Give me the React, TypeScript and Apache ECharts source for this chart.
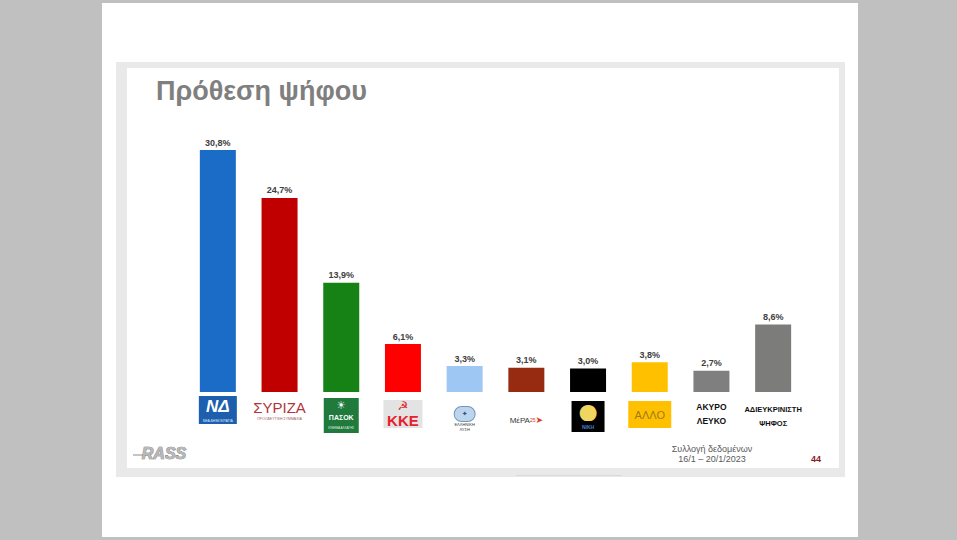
import React, { useEffect, useRef } from "react";
import * as echarts from "echarts";

const categories = [
  "ΝΔ",
  "ΣΥΡΙΖΑ",
  "ΠΑΣΟΚ",
  "ΚΚΕ",
  "ΕΛΛΗΝΙΚΗ ΛΥΣΗ",
  "ΜέΡΑ25",
  "ΝΙΚΗ",
  "ΑΛΛΟ",
  "ΑΚΥΡΟ ΛΕΥΚΟ",
  "ΑΔΙΕΥΚΡΙΝΙΣΤΗ ΨΗΦΟΣ",
];
const values = [30.8, 24.7, 13.9, 6.1, 3.3, 3.1, 3.0, 3.8, 2.7, 8.6];
const barColors = [
  "#1a6cc6",
  "#c00000",
  "#168216",
  "#ff0000",
  "#9fc7f3",
  "#962b12",
  "#000000",
  "#ffc000",
  "#7f7f7f",
  "#7c7d7a",
];
const title = "Πρόθεση ψήφου";
const footerLines = ["Συλλογή δεδομένων", "16/1 – 20/1/2023"];
const pageNumber = "44";

const logoText: Record<string, string> = {
  "ΝΔ": "{ndA|ΝΔ}\n{ndB|ΝΕΑ ΔΗΜΟΚΡΑΤΙΑ}",
  "ΣΥΡΙΖΑ": "{sp2| }\n{sy|ΣΥΡΙΖΑ}\n{syB|ΠΡΟΟΔΕΥΤΙΚΗ ΣΥΜΜΑΧΙΑ}",
  "ΠΑΣΟΚ": "{sp2| }\n{pkA|☀}\n{pkB|ΠΑΣΟΚ}\n{pkC|ΚΙΝΗΜΑ ΑΛΛΑΓΗΣ}",
  "ΚΚΕ": "{sp4| }\n{kkA|☭}\n{kkB|ΚΚΕ}",
  "ΕΛΛΗΝΙΚΗ ΛΥΣΗ": "{sp10| }\n{elA|✦}\n{elB|ΕΛΛΗΝΙΚΗ}\n{elB|ΛΥΣΗ}",
  "ΜέΡΑ25": "{sp19| }\n{mA|ΜέΡΑ}{mB|25}{mC|➤}",
  "ΝΙΚΗ": "{sp5| }\n{nkA|●}\n{nkB|ΝΙΚΗ}",
  "ΑΛΛΟ": "{sp5| }\n{alA|ΑΛΛΟ}",
  "ΑΚΥΡΟ ΛΕΥΚΟ": "{sp4| }\n{akA|ΑΚΥΡΟ}\n{akA|ΛΕΥΚΟ}",
  "ΑΔΙΕΥΚΡΙΝΙΣΤΗ ΨΗΦΟΣ": "{sp6| }\n{adA|ΑΔΙΕΥΚΡΙΝΙΣΤΗ}\n{adA|ΨΗΦΟΣ}",
};

const FONT = "Liberation Sans, Arial, sans-serif";

const spacer = (h: number) => ({ fontSize: 1, lineHeight: h, height: h, align: "center" });

const rich: Record<string, any> = {
  sp2: spacer(2),
  sp4: spacer(4),
  sp5: spacer(5),
  sp6: spacer(6),
  sp10: spacer(10),
  sp19: spacer(19),
  ndA: {
    backgroundColor: "#1d5fae",
    color: "#ffffff",
    width: 38,
    height: 21,
    lineHeight: 21,
    fontSize: 17,
    fontWeight: "bold",
    fontStyle: "italic",
    fontFamily: FONT,
    align: "center",
  },
  ndB: {
    backgroundColor: "#1d5fae",
    color: "#dce7f5",
    width: 38,
    height: 7,
    lineHeight: 7,
    fontSize: 3.5,
    fontFamily: FONT,
    align: "center",
  },
  sy: {
    color: "#b2343c",
    fontSize: 15,
    lineHeight: 18,
    fontFamily: FONT,
    align: "center",
  },
  syB: {
    color: "#a06060",
    fontSize: 3.5,
    lineHeight: 5,
    fontFamily: FONT,
    align: "center",
  },
  pkA: {
    backgroundColor: "#1f7a3c",
    color: "#ffffff",
    width: 35,
    height: 14,
    lineHeight: 14,
    fontSize: 11,
    fontFamily: "DejaVu Sans",
    align: "center",
  },
  pkB: {
    backgroundColor: "#1f7a3c",
    color: "#ffffff",
    width: 35,
    height: 11,
    lineHeight: 11,
    fontSize: 7,
    fontWeight: "bold",
    fontFamily: FONT,
    align: "center",
  },
  pkC: {
    backgroundColor: "#1f7a3c",
    color: "#e0f0e0",
    width: 35,
    height: 10,
    lineHeight: 10,
    fontSize: 3,
    fontFamily: FONT,
    align: "center",
  },
  kkA: {
    backgroundColor: "#e3e3e3",
    color: "#e02020",
    width: 39,
    height: 12,
    lineHeight: 12,
    fontSize: 12,
    fontWeight: "bold",
    fontFamily: "DejaVu Sans",
    align: "center",
  },
  kkB: {
    backgroundColor: "#e3e3e3",
    color: "#e8202a",
    width: 39,
    height: 16,
    lineHeight: 16,
    fontSize: 15,
    fontWeight: 900,
    fontFamily: FONT,
    align: "center",
  },
  elA: {
    backgroundColor: "#bcd5ec",
    borderColor: "#7397bb",
    borderWidth: 1,
    borderRadius: 8,
    width: 20,
    height: 14,
    lineHeight: 16,
    color: "#2b4f80",
    fontSize: 7,
    fontFamily: "DejaVu Sans",
    align: "center",
  },
  elB: {
    color: "#333333",
    fontSize: 4,
    lineHeight: 5,
    fontFamily: FONT,
    align: "center",
  },
  mA: {
    color: "#3a3a3a",
    fontSize: 8,
    lineHeight: 10,
    fontFamily: FONT,
    align: "center",
  },
  mB: {
    color: "#d23a2a",
    fontSize: 5,
    lineHeight: 10,
    fontFamily: FONT,
    align: "center",
  },
  mC: {
    color: "#e03a2a",
    fontSize: 9,
    lineHeight: 10,
    fontFamily: "DejaVu Sans",
    align: "center",
  },
  nkA: {
    backgroundColor: "#000000",
    color: "#f0d560",
    width: 33,
    height: 20,
    lineHeight: 20,
    fontSize: 22,
    fontFamily: "DejaVu Sans",
    align: "center",
  },
  nkB: {
    backgroundColor: "#000000",
    color: "#4a7ed0",
    width: 33,
    height: 11,
    lineHeight: 11,
    fontSize: 5,
    fontWeight: "bold",
    fontFamily: FONT,
    align: "center",
  },
  alA: {
    backgroundColor: "#ffc000",
    color: "#9f7a1e",
    width: 43,
    height: 27,
    lineHeight: 27,
    fontSize: 11,
    fontFamily: FONT,
    align: "center",
  },
  akA: {
    color: "#111111",
    fontSize: 8.5,
    fontWeight: "bold",
    lineHeight: 14,
    fontFamily: FONT,
    align: "center",
  },
  adA: {
    color: "#111111",
    fontSize: 7.5,
    fontWeight: "bold",
    lineHeight: 14,
    fontFamily: FONT,
    align: "center",
  },
};

export default function App() {
  const ref = useRef<HTMLDivElement>(null);

  useEffect(() => {
    if (!ref.current) return;
    const chart = echarts.init(ref.current, undefined, { renderer: "svg" });
    const option: any = {
      animation: false,
      backgroundColor: "#c0c0c0",
      title: {
        text: title,
        left: 156,
        top: 77,
        padding: 0,
        textStyle: {
          fontSize: 27,
          fontWeight: "bold",
          color: "#7f7f7f",
          fontFamily: FONT,
        },
      },
      grid: { left: 187, right: 153, top: 117, bottom: 148 },
      xAxis: {
        type: "category",
        data: categories,
        axisLine: { show: false },
        axisTick: { show: false },
        splitLine: { show: false },
        axisLabel: {
          interval: 0,
          margin: 4,
          hideOverlap: false,
          formatter: (v: string) => logoText[v] ?? v,
          rich,
        },
      },
      yAxis: {
        type: "value",
        min: 0,
        max: 35,
        show: false,
        splitLine: { show: false },
      },
      series: [
        {
          type: "bar",
          barWidth: 36,
          data: values.map((v, i) => ({
            value: v,
            itemStyle: { color: barColors[i] },
          })),
          label: {
            show: true,
            position: "top",
            distance: 3,
            fontSize: 9,
            fontWeight: "bold",
            color: "#404040",
            fontFamily: FONT,
            formatter: (p: any) => p.value.toFixed(1).replace(".", ",") + "%",
          },
        },
      ],
      graphic: [
        {
          type: "rect",
          z: -100,
          shape: { x: 102, y: 3, width: 756, height: 534 },
          style: { fill: "#ffffff" },
          silent: true,
        },
        {
          type: "rect",
          z: -99,
          shape: { x: 116, y: 62, width: 729, height: 415 },
          style: { fill: "#e9e9e9" },
          silent: true,
        },
        {
          type: "rect",
          z: -98,
          shape: { x: 127, y: 68, width: 712, height: 400 },
          style: { fill: "#ffffff" },
          silent: true,
        },
        {
          type: "line",
          z: -97,
          shape: { x1: 516, y1: 475.5, x2: 622, y2: 475.5 },
          style: { stroke: "#d9d9d9", lineWidth: 1 },
          silent: true,
        },
        {
          type: "line",
          z: 10,
          shape: { x1: 133, y1: 455, x2: 148, y2: 455 },
          style: { stroke: "#8a8a8a", lineWidth: 1 },
          silent: true,
        },
        {
          type: "text",
          z: 10,
          x: 164,
          y: 453,
          style: {
            text: "RASS",
            fill: "#b8b8b8",
            stroke: "#6e6e6e",
            lineWidth: 0.7,
            font: "italic bold 16px " + FONT,
            textAlign: "center",
            textVerticalAlign: "middle",
          },
          silent: true,
        },
        {
          type: "text",
          z: 10,
          x: 712,
          y: 449,
          style: {
            text: footerLines[0],
            fill: "#595959",
            font: "9px " + FONT,
            textAlign: "center",
            textVerticalAlign: "middle",
          },
          silent: true,
        },
        {
          type: "text",
          z: 10,
          x: 712,
          y: 459,
          style: {
            text: footerLines[1],
            fill: "#595959",
            font: "9px " + FONT,
            textAlign: "center",
            textVerticalAlign: "middle",
          },
          silent: true,
        },
        {
          type: "text",
          z: 10,
          x: 816,
          y: 459,
          style: {
            text: pageNumber,
            fill: "#8b1a1a",
            font: "bold 9px " + FONT,
            textAlign: "center",
            textVerticalAlign: "middle",
          },
          silent: true,
        },
      ],
    };
    chart.setOption(option);
    return () => chart.dispose();
  }, []);

  return (
    <div
      ref={ref}
      style={{ position: "fixed", left: 0, top: 0, width: 957, height: 540 }}
    />
  );
}
